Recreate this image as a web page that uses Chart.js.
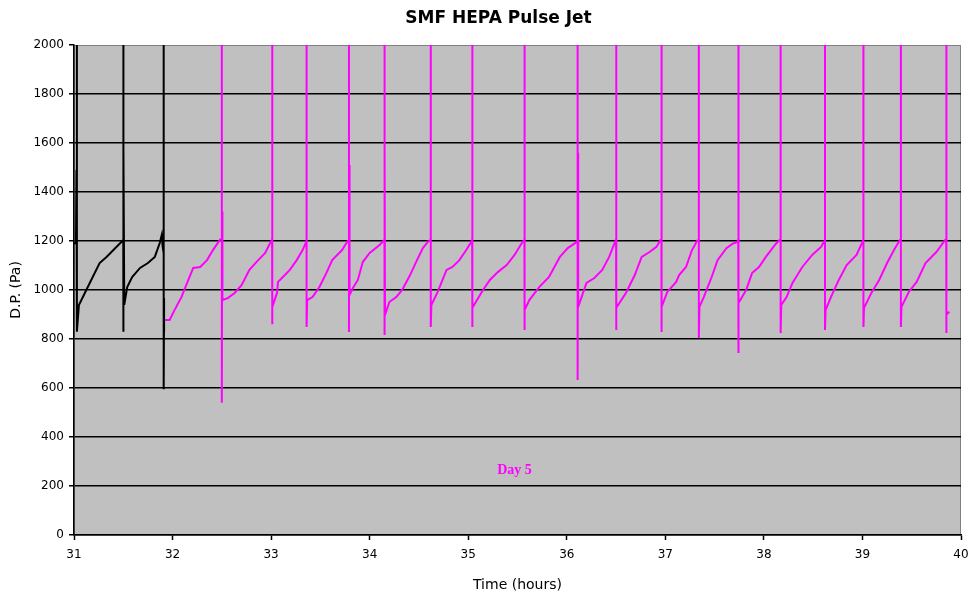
<!DOCTYPE html>
<html lang="en">
<head>
    <meta charset="UTF-8">
    <script src="https://cdn.jsdelivr.net/npm/chart.js"></script>
    <title>SMF HEPA Pulse Jet</title>
    <style>
      body { margin: 0; background: #fff; }
    </style>
</head>
<body>
    <div style="width:969px;height:596px">
      <canvas id="myChart" width="969" height="596"></canvas>
    </div>
    <script>
      // black trace (end of day 4), time in hours and D.P. in Pa
      const blackHours = [
        31.00, 31.02, 31.025, 31.028, 31.03, 31.03,
        31.05, 31.11, 31.19, 31.26, 31.33, 31.40, 31.47, 31.50,
        31.50, 31.50, 31.504, 31.51,
        31.54, 31.59, 31.67, 31.75, 31.82, 31.87, 31.89, 31.90, 31.91,
        31.91, 31.91, 31.914, 31.914
      ]
      const blackDP = [
        1190, 1192, 1490, 1200, 2100, 830,
        939, 988, 1053, 1110, 1135, 1163, 1192, 1204,
        2100, 830, 1584, 939,
        1012, 1053, 1090, 1110, 1135, 1192, 1224, 1176, 1150,
        2100, 595, 967, 829
      ]

      // magenta trace (day 5)
      const day5Hours = [
        31.92, 31.97, 32.02, 32.09, 32.16, 32.21, 32.28, 32.35, 32.41, 32.48, 32.50,
        32.50, 32.50, 32.504, 32.506,
        32.56, 32.63, 32.70, 32.78, 32.85, 32.94, 32.99, 33.01,
        33.01, 33.01, 33.016,
        33.06, 33.07, 33.12, 33.19, 33.26, 33.32, 33.36,
        33.36, 33.36, 33.366,
        33.42, 33.49, 33.56, 33.62, 33.72, 33.77, 33.79,
        33.79, 33.79, 33.794, 33.796,
        33.83, 33.88, 33.93, 34.00, 34.10, 34.13, 34.15,
        34.15, 34.15, 34.154, 34.156,
        34.20, 34.27, 34.33, 34.41, 34.48, 34.54, 34.59, 34.62,
        34.62, 34.62, 34.626,
        34.69, 34.78, 34.84, 34.91, 34.98, 35.03, 35.04,
        35.04, 35.04, 35.046,
        35.15, 35.22, 35.30, 35.39, 35.47, 35.55, 35.57,
        35.57, 35.57, 35.576,
        35.62, 35.72, 35.82, 35.93, 36.01, 36.10, 36.11,
        36.11, 36.11, 36.114, 36.116,
        36.20, 36.28, 36.36, 36.43, 36.49, 36.50,
        36.50, 36.50, 36.504, 36.506,
        36.60, 36.69, 36.76, 36.84, 36.91, 36.95, 36.96,
        36.96, 36.96, 36.966,
        37.02, 37.11, 37.14, 37.21, 37.27, 37.29, 37.32, 37.34,
        37.34, 37.34, 37.346,
        37.39, 37.47, 37.53, 37.62, 37.68, 37.73, 37.74,
        37.74, 37.74, 37.744, 37.746,
        37.82, 37.88, 37.95, 38.02, 38.12, 38.16, 38.17,
        38.17, 38.17, 38.176,
        38.23, 38.29, 38.39, 38.49, 38.58, 38.62,
        38.62, 38.62, 38.626,
        38.68, 38.76, 38.84, 38.94, 39.00, 39.01,
        39.01, 39.01, 39.016,
        39.09, 39.17, 39.25, 39.32, 39.38, 39.39,
        39.39, 39.39, 39.396,
        39.47, 39.55, 39.64, 39.75, 39.84, 39.85,
        39.85, 39.85, 39.856,
        39.88
      ]
      const day5DP = [
        878, 878, 918, 971, 1041, 1090, 1094, 1122, 1163, 1204, 1210,
        2100, 540, 1320, 959,
        967, 988, 1020, 1082, 1114, 1151, 1192, 1205,
        2100, 860, 931,
        988, 1033, 1053, 1082, 1122, 1163, 1200,
        2100, 849, 959,
        971, 1012, 1069, 1122, 1163, 1196, 1205,
        2100, 829, 1510, 980,
        1008, 1041, 1114, 1151, 1184, 1196, 1205,
        2100, 816, 1580, 898,
        951, 971, 1000, 1061, 1122, 1171, 1196, 1205,
        2100, 849, 939,
        992, 1082, 1094, 1122, 1163, 1196, 1205,
        2100, 849, 927,
        1000, 1041, 1073, 1102, 1143, 1196, 1205,
        2100, 837, 918,
        959, 1012, 1053, 1135, 1171, 1196, 1205,
        2100, 633, 1560, 931,
        1029, 1049, 1082, 1135, 1196, 1205,
        2100, 837, 1660, 927,
        988, 1061, 1135, 1155, 1176, 1204, 1208,
        2100, 829, 931,
        992, 1033, 1061, 1094, 1163, 1176, 1200, 1205,
        2100, 804, 931,
        971, 1053, 1122, 1171, 1188, 1196, 1205,
        2100, 743, 1620, 947,
        1000, 1069, 1094, 1135, 1188, 1204, 1208,
        2100, 824, 939,
        971, 1029, 1094, 1143, 1176, 1204,
        2100, 837, 918,
        971, 1041, 1102, 1143, 1196, 1205,
        2100, 849, 927,
        988, 1041, 1110, 1163, 1204, 1208,
        2100, 849, 931,
        992, 1033, 1110, 1155, 1204, 1208,
        2100, 824, 898,
        912
      ]

      const dayLabel = 'Day 5'
      const dayLabelAt = [35.47, 265]

      const toPoints = (xs, ys) => xs.map((x, i) => ({ x: x, y: ys[i] }))

      const plotBackground = {
        id: 'plotBackground',
        beforeDraw(chart) {
          const a = chart.chartArea
          const c = chart.ctx
          c.save()
          c.fillStyle = '#c0c0c0'
          c.fillRect(a.left, a.top, a.right - a.left, a.bottom - a.top)
          c.strokeStyle = '#808080'
          c.lineWidth = 1
          c.strokeRect(a.left + 0.5, a.top + 0.5, a.right - a.left - 1, a.bottom - a.top - 1)
          c.restore()
        },
        afterDatasetsDraw(chart) {
          const c = chart.ctx
          const x = chart.scales.x.getPixelForValue(dayLabelAt[0])
          const y = chart.scales.y.getPixelForValue(dayLabelAt[1])
          c.save()
          c.font = 'bold 14px "Liberation Serif"'
          c.fillStyle = '#ff00ff'
          c.textAlign = 'center'
          c.textBaseline = 'middle'
          c.fillText(dayLabel, x, y)
          c.restore()
        }
      }

      const ctx = document.getElementById('myChart')
      new Chart(ctx, {
        type: 'line',
        data: {
          datasets: [{
            label: 'Day 4',
            data: toPoints(blackHours, blackDP),
            borderColor: '#000000',
            borderWidth: 2,
            pointRadius: 0,
            tension: 0
          }, {
            label: 'Day 5',
            data: toPoints(day5Hours, day5DP),
            borderColor: '#ff00ff',
            borderWidth: 2,
            pointRadius: 0,
            tension: 0
          }]
        },
        plugins: [plotBackground],
        options: {
          responsive: false,
          animation: false,
          layout: { padding: { left: 28, right: 0, top: 0, bottom: 0 } },
          plugins: {
            legend: { display: false },
            tooltip: { enabled: false },
            title: {
              display: true,
              text: 'SMF HEPA Pulse Jet',
              color: '#000',
              font: { family: 'DejaVu Sans', size: 17, weight: 'bold' },
              padding: { top: 8, bottom: 16.6 }
            }
          },
          scales: {
            x: {
              type: 'linear',
              min: 31,
              max: 40,
              ticks: {
                stepSize: 1,
                color: '#000',
                padding: 8,
                maxRotation: 0,
                font: { family: 'DejaVu Sans', size: 12 }
              },
              grid: { drawOnChartArea: false, tickLength: 5, color: '#000', tickWidth: 1.5 },
              border: { display: true, color: '#000', width: 1.5 },
              title: {
                display: true,
                text: 'Time (hours)',
                color: '#000',
                font: { family: 'DejaVu Sans', size: 14 },
                padding: { top: 0, bottom: 2 }
              },
              afterFit(scale) {
                scale.height = 61
                scale.paddingLeft = 0
                scale.paddingRight = 8
              }
            },
            y: {
              min: 0,
              max: 2000,
              ticks: {
                stepSize: 200,
                color: '#000',
                padding: 5,
                format: { useGrouping: false },
                font: { family: 'DejaVu Sans', size: 12 }
              },
              grid: {
                color: (c) => c.tick && c.tick.value === 2000 ? 'rgba(0,0,0,0)' : '#000',
                tickColor: '#000',
                lineWidth: 1.5,
                tickLength: 5
              },
              border: { display: true, color: '#000', width: 1.5 },
              title: {
                display: true,
                text: 'D.P. (Pa)',
                color: '#000',
                font: { family: 'DejaVu Sans', size: 14 },
                padding: { top: -20, bottom: 0 }
              },
              afterFit(scale) { scale.width = 46 }
            }
          }
        }
      })
    </script>
</body>
</html>
